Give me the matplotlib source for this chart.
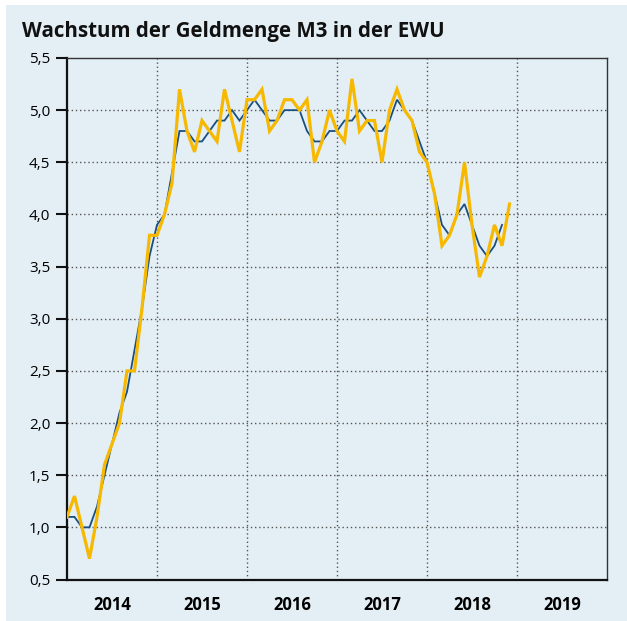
import matplotlib
matplotlib.use("Agg")
import matplotlib.pyplot as plt
import numpy as np

# Monthly values, Jan 2014 onward
m3_monthly = [1.1, 1.3, 1.0, 0.7, 1.1, 1.6, 1.8, 2.0, 2.5, 2.5, 3.1, 3.8,
              3.8, 4.0, 4.3, 5.2, 4.8, 4.6, 4.9, 4.8, 4.7, 5.2, 4.9, 4.6,
              5.1, 5.1, 5.2, 4.8, 4.9, 5.1, 5.1, 5.0, 5.1, 4.5, 4.7, 5.0,
              4.8, 4.7, 5.3, 4.8, 4.9, 4.9, 4.5, 5.0, 5.2, 5.0, 4.9, 4.6,
              4.5, 4.2, 3.7, 3.8, 4.0, 4.5, 3.9, 3.4, 3.6, 3.9, 3.7, 4.1]
m3_avg3 = [1.1, 1.1, 1.0, 1.0, 1.2, 1.5, 1.8, 2.1, 2.3, 2.7, 3.1, 3.6,
           3.9, 4.0, 4.4, 4.8, 4.8, 4.7, 4.7, 4.8, 4.9, 4.9, 5.0, 4.9,
           5.0, 5.1, 5.0, 4.9, 4.9, 5.0, 5.0, 5.0, 4.8, 4.7, 4.7, 4.8,
           4.8, 4.9, 4.9, 5.0, 4.9, 4.8, 4.8, 4.9, 5.1, 5.0, 4.9, 4.7,
           4.5, 4.2, 3.9, 3.8, 4.0, 4.1, 3.9, 3.7, 3.6, 3.7, 3.9]
years = [2014, 2015, 2016, 2017, 2018, 2019]
y_ticks = [0.5, 1.0, 1.5, 2.0, 2.5, 3.0, 3.5, 4.0, 4.5, 5.0, 5.5]
title = "Wachstum der Geldmenge M3 in der EWU"

BG = "#e3eef5"
YELLOW = "#f7b900"
BLUE = "#1a4f80"

plt.rcParams['font.family'] = ['Open Sans', 'DejaVu Sans']

fig = plt.figure(figsize=(6.27, 6.21), dpi=100)
fig.patch.set_facecolor("white")
bg = plt.Rectangle((6/627, 0), 1, 1 - 5/621, transform=fig.transFigure,
                   facecolor=BG, edgecolor="none", zorder=-10)
fig.patches.append(bg)

ax = fig.add_axes([67/627, 1 - 579.5/621, (607-67)/627, (579.5-58)/621])
ax.set_facecolor(BG)

x1 = 2014 + np.arange(len(m3_monthly)) / 12
x2 = 2014 + np.arange(len(m3_avg3)) / 12
ax.plot(x2, m3_avg3, color=BLUE, lw=1.3, zorder=3, solid_joinstyle="miter")
ax.plot(x1, m3_monthly, color=YELLOW, lw=2.3, zorder=4, solid_joinstyle="miter")

ax.set_xlim(2014, 2020)
ax.set_ylim(0.5, 5.5)

ax.set_yticks(y_ticks)
ax.set_yticklabels([f"{v:.1f}".replace(".", ",") for v in y_ticks], fontsize=11)
ax.tick_params(axis="y", length=8, width=1.5, direction="out", pad=4, color="#111111")

ax.set_xticks(years[1:])
ax.set_xticklabels([])
ax.tick_params(axis="x", which="major", length=0)
ax.set_xticks([y + 0.5 for y in years], minor=True)
ax.set_xticklabels([str(y) for y in years], minor=True, fontsize=12, fontweight="bold")
ax.tick_params(axis="x", which="minor", length=0, pad=12)

for v in y_ticks[1:-1]:
    ax.axhline(v, color="#555555", lw=1.0, ls=(0, (1, 2)), zorder=1)
for y in years[1:]:
    ax.axvline(y, color="#555555", lw=1.0, ls=(0, (1, 2)), zorder=1)

for s in ["left", "bottom"]:
    ax.spines[s].set_linewidth(1.6)
    ax.spines[s].set_color("#111111")
for s in ["top", "right"]:
    ax.spines[s].set_linewidth(1.0)
    ax.spines[s].set_color("#333333")

fig.text(22/627, 1 - 31/621, title, fontsize=14.8, fontweight="bold", va="center", ha="left",
         color="#111111")

fig.savefig("out.png", dpi=100, facecolor=fig.get_facecolor())
